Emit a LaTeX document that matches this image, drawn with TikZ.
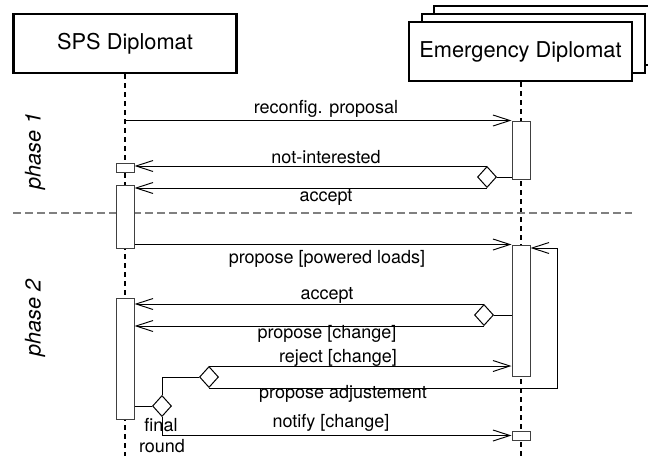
\documentclass[tikz,border=0pt]{standalone}
\usepackage{fontspec}
\setmainfont{TeX Gyre Heros}
\usetikzlibrary{arrows.meta,shapes.geometric}

\tikzset{
    party/.style={draw, line width=2.4pt, fill=white, minimum width=223pt,
        minimum height=59pt, inner sep=0pt, font=\fontsize{21.8}{24}\selectfont},
    actbox/.style={draw=black!75, line width=1pt, fill=white,
        minimum width=18pt, inner sep=0pt},
    choice/.style={diamond, draw, line width=1pt, fill=white,
        minimum width=19pt, minimum height=21pt, inner sep=0pt},
    msg/.style={line width=0.95pt,
        -{Straight Barb[length=17pt, width=11pt, line width=0.95pt]}},
    link/.style={line width=0.95pt},
    lifeline/.style={line width=1.2pt, dash pattern=on 5pt off 4pt},
    lbl/.style={font=\fontsize{18}{20}\selectfont, inner sep=0pt},
    phaselbl/.style={font=\fontsize{21.6}{24}\selectfont\itshape, rotate=90, inner sep=0pt},
}

\begin{document}
\begin{tikzpicture}[x=1pt, y=-1pt]
    \useasboundingbox (0,0) rectangle (648,456);

    % participants
    \node[party] (sps) at (125,43.5) {SPS Diplomat};
    \node[party] (emergC) at (545.5,35.5) {};
    \node[party] (emergB) at (533.5,43.5) {};
    \node[party] (emerg) at (520.5,51.5) {Emergency Diplomat};

    % lifelines
    \coordinate (spsend) at (125,456);
    \coordinate (emergend) at (521,456);
    \draw[lifeline] (sps.south) -- (spsend);
    \draw[lifeline] (emerg.south -| emergend) -- (emergend);

    % phase separator
    \coordinate (sepL) at (13,213);
    \coordinate (sepR) at (632,213);
    \draw[gray, line width=1.1pt, dash pattern=on 8pt off 4pt] (sepL) -- (sepR);
    \node[phaselbl] (ph1) at (35,151) {phase 1};
    \node[phaselbl] (ph2) at (35,318) {phase 2};

    % activation boxes
    \node[actbox, minimum height=58pt] (act1) at (521,150) {};
    \node[actbox, minimum height=9pt] (sm1) at (125,167.5) {};
    \node[actbox, minimum height=63pt] (act2) at (125,216.5) {};
    \node[actbox, minimum height=131pt] (act3) at (521,310.5) {};
    \node[actbox, minimum height=121pt] (act4) at (125,358.5) {};
    \node[actbox, minimum height=9pt] (sm2) at (521,435.5) {};

    % choices
    \node[choice] (d1) at (487,177) {};
    \node[choice] (d2) at (484,315) {};
    \node[choice] (d3) at (209,377) {};
    \node[choice] (d4) at (162,406) {};

    % phase 1
    \draw[msg] (sps |- act1.north) -- (act1.north west);
    \draw[link] (act1.west |- d1.east) -- (d1.east);
    \draw[msg] (d1.north) -- (sm1.east |- d1.north);
    \draw[msg] (d1.south) -- (act2.east |- d1.south);

    % phase 2
    \draw[msg] (act2.east |- act3.north) -- (act3.north west);
    \draw[link] (act3.west |- d2.east) -- (d2.east);
    \draw[msg] (d2.north) -- (act4.east |- d2.north);
    \draw[msg] (d2.south) -- (act4.east |- d2.south);
    \draw[link] (act4.east |- d4.west) -- (d4.west);
    \draw[link] (d4.north) |- (d3.west);
    \draw[msg] (d3.north) -- (act3.west |- d3.north);
    \coordinate (loop) at (557,248);
    \draw[msg] (d3.south) -| (loop) -- (act3.east |- loop);
    \draw[msg] (d4.south) |- (sm2.west);

    % message labels
    \node[lbl] (lreconf) at (326,109) {reconfig. proposal};
    \node[lbl] (lnoint) at (326,157) {not-interested};
    \node[lbl] (lacc1) at (326,197) {accept};
    \node[lbl] (lpower) at (327,259) {propose [powered loads]};
    \node[lbl] (lacc2) at (327,295) {accept};
    \node[lbl] (lchange) at (327,334) {propose [change]};
    \node[lbl] (lreject) at (338,358) {reject [change]};
    \node[lbl] (ladjust) at (343,394) {propose adjustement};
    \node[lbl] (lnotify) at (331,423) {notify [change]};
    \node[lbl] (lfinal) at (161,425) {final};
    \node[lbl] (lround) at (162,446) {round};
\end{tikzpicture}
\end{document}
